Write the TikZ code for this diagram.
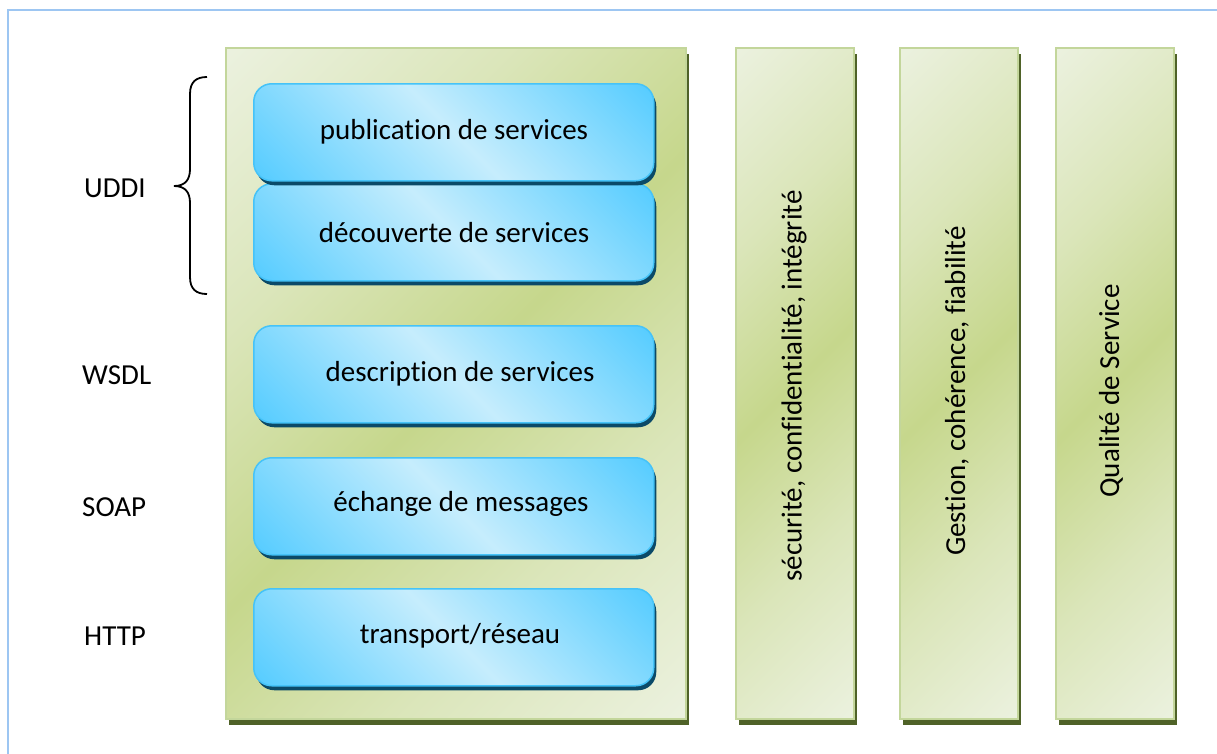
\documentclass[tikz,border=0pt]{standalone}
\usepackage{fontspec}
\setmainfont{Carlito}[Ligatures=NoCommon]
\usetikzlibrary{shadows}
\definecolor{gL}{HTML}{EBF1DE}
\definecolor{gD}{HTML}{C6D78C}
\definecolor{gEdge}{HTML}{C3D69B}
\definecolor{gShadow}{HTML}{4F6228}
\definecolor{bL}{HTML}{C6EDFD}
\definecolor{bD}{HTML}{55CCFF}
\definecolor{bEdge}{HTML}{45C3F8}
\definecolor{bShadow}{HTML}{0B4A68}
\definecolor{frameblue}{HTML}{9DC6F2}
\colorlet{gM}{gL!55!gD}
\pgfdeclarehorizontalshading{greenrefl}{100bp}{color(0bp)=(gL); color(15bp)=(gL); color(33bp)=(gM); color(50bp)=(gD); color(67bp)=(gM); color(85bp)=(gL); color(100bp)=(gL)}
\pgfdeclarehorizontalshading{bluerefl}{100bp}{color(0bp)=(bD); color(15bp)=(bD); color(50bp)=(bL); color(85bp)=(bD); color(100bp)=(bD)}
\tikzset{
  gpanel/.style={draw=gEdge, line width=2pt, shading=greenrefl, shading angle=-45,
    inner sep=0pt, anchor=north west,
    drop shadow={fill=gShadow, opacity=1, shadow xshift=3pt, shadow yshift=-6pt}},
  bbox/.style={draw=bEdge, line width=1.5pt, shading=bluerefl, shading angle=45,
    rounded corners=18pt, inner sep=0pt, anchor=north west,
    minimum width=400pt, minimum height=97pt,
    drop shadow={fill=bShadow, opacity=1, shadow xshift=2.5pt, shadow yshift=-4.5pt}},
  txt/.style={font=\fontsize{29}{32}\selectfont, inner sep=0pt, text=black},
  sidelbl/.style={txt, anchor=west},
}
\begin{document}
\begin{tikzpicture}[x=1pt,y=-1pt]
\useasboundingbox (0,0) rectangle (1217,753);
\fill[white] (0,0) rectangle (1217,753);
% outer frame (cut by the page on the right and bottom)
\draw[frameblue, line width=2pt] (8,760) -- (8,10) -- (1225,10);

% green panels
\node[gpanel, minimum width=460pt, minimum height=671pt] (main) at (225,47) {};
\node[gpanel, minimum width=118pt, minimum height=671pt] (col1) at (735,47) {};
\node[gpanel, minimum width=118pt, minimum height=671pt] (col2) at (899,47) {};
\node[gpanel, minimum width=118pt, minimum height=671pt] (col3) at (1055,47) {};

% blue boxes
\node[bbox] (b2) at (253,183) {};
\node[bbox] (b1) at (253,83) {};
\node[bbox] (b3) at (253,325) {};
\node[bbox] (b4) at (253,457) {};
\node[bbox] (b5) at (253,588) {};

\node[txt] (t1) at (454,132) {publication de services};
\node[txt] (t2) at (454,233) {découverte de services};
\node[txt] (t3) at (460,374) {description de services};
\node[txt] (t4) at (461,504) {échange de messages};
\node[txt] (t5) at (460,636) {transport/réseau};

% vertical texts
\node[txt, rotate=90] (v1) at (794,386) {sécurité, confidentialité, intégrité};
\node[txt, rotate=90] (v2) at (957,391) {Gestion, cohérence, fiabilité};
\node[txt, rotate=90] (v3) at (1111,391) {Qualité de Service};

% side labels
\node[sidelbl] (uddi) at (84,188) {UDDI};
\node[sidelbl] (wsdl) at (82,375) {WSDL};
\node[sidelbl] (soap) at (82,507) {SOAP};
\node[sidelbl] (http) at (84,636) {HTTP};

% brace
\draw[black, line width=1.8pt] (207,77) .. controls (196,77) and (190,82) .. (190,94)
  -- (190,169) .. controls (190,180) and (185,186) .. (174,186)
  .. controls (185,186) and (190,192) .. (190,203)
  -- (190,277) .. controls (190,289) and (196,294) .. (207,294);
\end{tikzpicture}
\end{document}
